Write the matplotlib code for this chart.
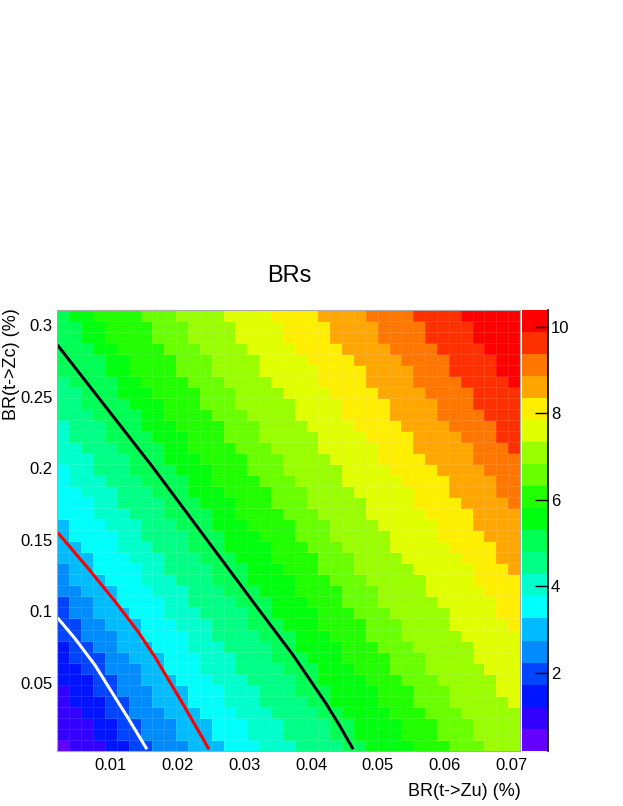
import colorsys
import numpy as np
import matplotlib
matplotlib.use("Agg")
import matplotlib.pyplot as plt
from matplotlib.colors import ListedColormap, BoundaryNorm
from matplotlib.cm import ScalarMappable

plt.rcParams['font.family'] = ['Liberation Sans', 'DejaVu Sans']

# ---------------- data ----------------
title = "BRs"
x_label = "BR(t->Zu) (%)"
y_label = "BR(t->Zc) (%)"

x_range = [0.002, 0.0713]      # histogram x range
y_range = [0.0025, 0.3105]     # histogram y range
n_cols = 39
n_rows = 40
z_min, z_max = 0.20, 10.39     # colour-scale range
n_levels = 20

x_ticks = [0.01, 0.02, 0.03, 0.04, 0.05, 0.06, 0.07]
x_tick_labels = ["0.01", "0.02", "0.03", "0.04", "0.05", "0.06", "0.07"]
y_ticks = [0.05, 0.1, 0.15, 0.2, 0.25, 0.3]
y_tick_labels = ["0.05", "0.1", "0.15", "0.2", "0.25", "0.3"]
z_ticks = [2, 4, 6, 8, 10]

# colour-band boundaries read off the cells:
# level k -> first column (from left) with band >= k in the bottom row
bottom_row_start = {1: 1, 2: 4, 3: 6, 4: 8, 5: 11, 6: 14, 7: 17, 8: 20,
                    9: 24, 10: 26, 11: 30, 12: 33, 13: 36}
# level k -> first row (from bottom) with band >= k in the leftmost column
left_col_start = {1: 1, 2: 6, 3: 10, 4: 14, 5: 17, 6: 21, 7: 26, 8: 30, 9: 34}
# level k -> first column with band >= k in the top row
top_row_start = {10: 1, 11: 3, 12: 7, 13: 10, 14: 14, 15: 18, 16: 22,
                 17: 26, 18: 30, 19: 34}
# level k -> first row (from bottom) with band >= k in the rightmost column
right_col_start = {14: 4, 15: 11, 16: 16, 17: 22, 18: 27, 19: 33}

# contour curves
black_x = [0.0020, 0.0163, 0.0233, 0.0323, 0.0373, 0.0423, 0.0443, 0.0463]
black_y = [0.2860, 0.2005, 0.1567, 0.1003, 0.0693, 0.0350, 0.0198, 0.0035]
red_x = [0.0020, 0.0066, 0.0106, 0.0141, 0.0166, 0.0205, 0.0247]
red_y = [0.1551, 0.1299, 0.1070, 0.0855, 0.0680, 0.0375, 0.0035]
white_x = [0.0020, 0.0046, 0.0076, 0.0101, 0.0126, 0.0154]
white_y = [0.0954, 0.0810, 0.0624, 0.0437, 0.0251, 0.0035]

# ---------------- build the cell grid from the readings ----------------
def anchors(k):
    pts = []
    if k in bottom_row_start:
        pts.append((bottom_row_start[k], 0.5))
    if k in left_col_start:
        pts.append((0.5, left_col_start[k]))
    if k in top_row_start:
        pts.append((top_row_start[k], n_rows - 0.5))
    if k in right_col_start:
        pts.append((n_cols - 0.5, right_col_start[k]))
    return pts[0], pts[1]

band = np.zeros((n_rows, n_cols), dtype=int)
uc = np.arange(n_cols) + 0.5
for k in range(1, n_levels):
    (u1, v1), (u2, v2) = anchors(k)
    for r in range(n_rows):
        vc = r + 0.5
        ul = u1 + (u2 - u1) * (vc - v1) / (v2 - v1)
        band[r] += (uc > ul).astype(int)

dz = (z_max - z_min) / n_levels
Z = z_min + (band + 0.5) * dz

x_edges = np.linspace(x_range[0], x_range[1], n_cols + 1)
y_edges = np.linspace(y_range[0], y_range[1], n_rows + 1)

# ROOT "pretty palette" (HLS, violet -> red) sampled for 20 levels
cols = []
for k in range(n_levels):
    idx = int((k + 0.99) * 50 / n_levels)
    hue = 280.0 - (idx + 1) * 5.6
    hue = max(hue, 0.0)
    cols.append(colorsys.hls_to_rgb(hue / 360.0, 0.5, 1.0))
cmap = ListedColormap(cols)
levels = np.linspace(z_min, z_max, n_levels + 1)
norm = BoundaryNorm(levels, n_levels)

# ---------------- figure ----------------
W, H = 623, 806
fig = plt.figure(figsize=(W / 100, H / 100), dpi=100)
fig.patch.set_facecolor('white')

ax = fig.add_axes([57.5 / W, 1 - 750.7 / H, (520 - 57.5) / W, (750.7 - 310) / H])
ax.pcolormesh(x_edges, y_edges, Z, cmap=cmap, norm=norm,
              edgecolors=(1, 1, 1, 0.10), linewidth=0.4)
line_kw = dict(lw=2.2, solid_capstyle='butt', solid_joinstyle='round')
ax.plot(white_x, white_y, color='white', **line_kw)
ax.plot(red_x, red_y, color='#ff0000', **line_kw)
ax.plot(black_x, black_y, color='black', **line_kw)
ax.set_xlim(*x_range)
ax.set_ylim(*y_range)
ax.set_xticks(x_ticks)
ax.set_xticklabels(x_tick_labels)
ax.set_yticks(y_ticks)
ax.set_yticklabels(y_tick_labels)
ax.tick_params(axis='x', length=0, labelsize=12, pad=5)
ax.tick_params(axis='y', length=0, labelsize=12, pad=3.5)
for s in ax.spines.values():
    s.set_color('#aaaaaa')
    s.set_linewidth(0.8)

# colour bar
cax = fig.add_axes([522 / W, 1 - 750.7 / H, 26.3 / W, (750.7 - 310) / H])
sm = ScalarMappable(norm=norm, cmap=cmap)
cb = fig.colorbar(sm, cax=cax, ticks=z_ticks)
cb.outline.set_visible(False)
cb.ax.set_yticklabels([str(t) for t in z_ticks])
cax.yaxis.set_ticks_position('right')
cax.tick_params(axis='y', direction='in', length=9.5, width=1, labelsize=12,
                pad=2, color='black')
cax.minorticks_off()
cax.plot([1, 1], [0, 1], transform=cax.transAxes, color='black', lw=1.2,
         clip_on=False)

# texts
fig.text(289 / W, 1 - 281.7 / H, title, ha='center', va='baseline', fontsize=17)
fig.text(521 / W, 1 - 796 / H, x_label, ha='right', va='baseline', fontsize=13)
fig.text(12 / W, 1 - 308 / H, y_label, ha='center', va='top', rotation=90,
         fontsize=13)

fig.savefig("out.png", dpi=100)
